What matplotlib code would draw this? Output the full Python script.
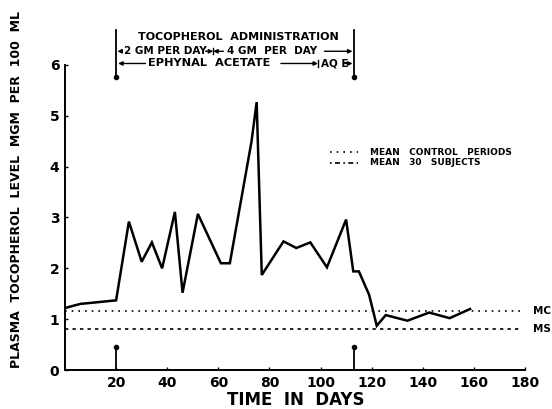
import matplotlib
matplotlib.use("Agg")
import matplotlib.pyplot as plt

# ---- data ----
days = [0, 6, 20, 25, 30, 34, 38, 43, 46, 52, 61, 64.5, 73, 75, 77, 85.5,
        90.5, 96, 102.5, 110, 112.8, 115, 119, 122, 125.5, 134, 142.5, 150.5, 158.5]
levels = [1.22, 1.30, 1.37, 2.92, 2.13, 2.51, 2.00, 3.11, 1.52, 3.07, 2.10, 2.10,
          4.5, 5.27, 1.87, 2.53, 2.40, 2.51, 2.02, 2.96, 1.94, 1.94, 1.48, 0.87,
          1.08, 0.97, 1.13, 1.02, 1.20]
mean_control = 1.16
mean_subjects = 0.81
admin_start = 20
admin_end = 113
dose_change = 58
ae_change = 99
x_ticks = [20, 40, 60, 80, 100, 120, 140, 160, 180]
y_ticks = [0, 1, 2, 3, 4, 5, 6]

plt.rcParams['font.family'] = ['DejaVu Sans']
plt.rcParams['font.weight'] = 'bold'
K = 'black'

fig = plt.figure(figsize=(5.52, 4.09), dpi=100)
ax = fig.add_axes([65/552, 39/409, 460/552, 305/409])
ax.set_xlim(0, 180)
ax.set_ylim(0, 6)
for s in ['top', 'right']:
    ax.spines[s].set_visible(False)
for s in ['left', 'bottom']:
    ax.spines[s].set_linewidth(1.4)
ax.set_xticks(x_ticks)
ax.set_yticks(y_ticks)
ax.tick_params(length=2, width=1, direction='in', labelsize=10, pad=4)
for lab in ax.get_xticklabels() + ax.get_yticklabels():
    lab.set_fontweight('bold')

# main series
ax.plot(days, levels, color=K, lw=1.8, solid_joinstyle='miter')

# reference lines
ax.plot([0, 179], [mean_control, mean_control], color=K, lw=1.2, ls=(0, (1, 3)))
ax.plot([0, 179], [mean_subjects, mean_subjects], color=K, lw=1.2, ls=(0, (2, 2.5)))
fig.text(533/552, 1 - 311/409, 'MC', fontsize=7.5, fontweight='bold', va='center')
fig.text(533/552, 1 - 329/409, 'MS', fontsize=7.5, fontweight='bold', va='center')

# bottom markers
for d in [admin_start, admin_end]:
    ax.plot([d, d], [0, 0.45], color=K, lw=1.3)
    ax.plot([d], [0.45], 'o', color=K, ms=3)
    # top markers
    ax.plot([d, d], [5.77, 6.68], color=K, lw=1.3, clip_on=False)
    ax.plot([d], [5.77], 'o', color=K, ms=3, clip_on=False)

# top annotations
ax.text((admin_start + admin_end) / 2 + 1.5, 6.56, 'TOCOPHEROL  ADMINISTRATION',
        ha='center', va='center', fontsize=8, fontweight='bold', clip_on=False)
y2 = 6.27
ax.text(23, y2, '2 GM PER DAY', ha='left', va='center', fontsize=7.5,
        fontweight='bold', clip_on=False)
ax.text(63.5, y2, '4 GM  PER  DAY', ha='left', va='center', fontsize=7.5,
        fontweight='bold', clip_on=False)
ap = dict(arrowstyle='-|>', color=K, lw=1, mutation_scale=6, shrinkA=0, shrinkB=0)
ax.annotate('', xy=(dose_change, y2), xytext=(55, y2), arrowprops=ap, annotation_clip=False)
ax.annotate('', xy=(dose_change, y2), xytext=(62, y2), arrowprops=ap, annotation_clip=False)
ax.plot([dose_change, dose_change], [y2 - 0.06, y2 + 0.06], color=K, lw=1, clip_on=False)
ax.annotate('', xy=(admin_end - 0.5, y2), xytext=(101.5, y2), arrowprops=ap, annotation_clip=False)
ax.annotate('', xy=(admin_start + 0.5, y2), xytext=(22.5, y2), arrowprops=ap, annotation_clip=False)

y3 = 6.03
ax.annotate('', xy=(admin_start + 0.8, y3), xytext=(31.5, y3), arrowprops=ap, annotation_clip=False)
ax.text(32.5, y3, 'EPHYNAL  ACETATE', ha='left', va='center', fontsize=8.2,
        fontweight='bold', clip_on=False)
ax.annotate('', xy=(ae_change, y3), xytext=(84.5, y3), arrowprops=ap, annotation_clip=False)
ax.plot([ae_change, ae_change], [y3 - 0.06, y3 + 0.06], color=K, lw=1, clip_on=False)
ax.text(100, y3, 'AQ E', ha='left', va='center', fontsize=7.5,
        fontweight='bold', clip_on=False)
ax.annotate('', xy=(admin_end - 0.5, y3), xytext=(109.5, y3), arrowprops=ap, annotation_clip=False)

# legend
ax.plot([103.5, 114.5], [4.28, 4.28], color=K, lw=1.2, ls=(0, (1, 3)), clip_on=False)
ax.plot([103.5, 114.5], [4.08, 4.08], color=K, lw=1.2, ls=(0, (1, 2, 3, 2)), clip_on=False)
ax.text(119.5, 4.28, 'MEAN   CONTROL   PERIODS', ha='left', va='center', fontsize=6.5,
        fontweight='bold')
ax.text(119.5, 4.08, 'MEAN   30   SUBJECTS', ha='left', va='center', fontsize=6.5,
        fontweight='bold')

# axis labels
fig.text(296/552, 1 - 400/409, 'TIME  IN  DAYS', ha='center', va='center',
         fontsize=12, fontweight='bold')
fig.text(17/552, 1 - 190/409, 'PLASMA  TOCOPHEROL  LEVEL  MGM  PER  100  ML',
         ha='center', va='center', rotation=90, fontsize=9, fontweight='bold')

fig.savefig('out.png', dpi=100)
